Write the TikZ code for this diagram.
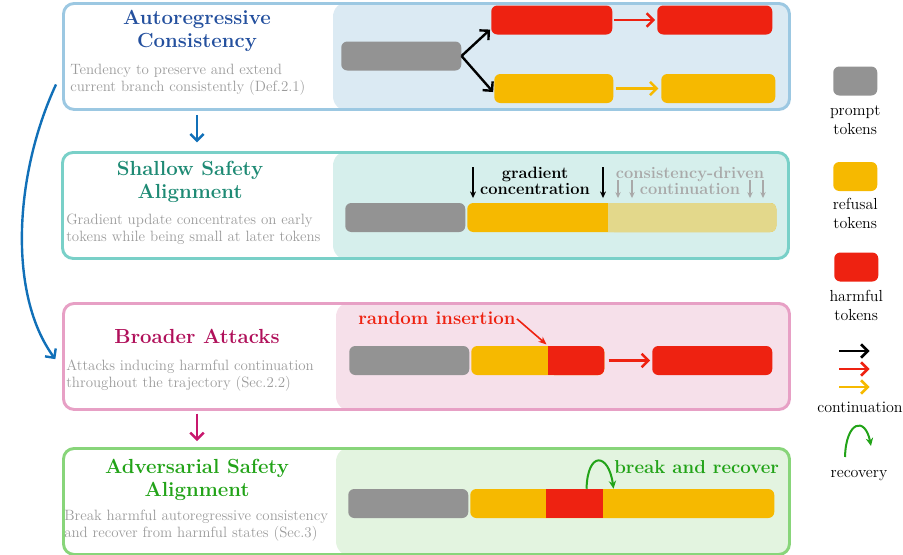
\documentclass[tikz,border=0pt]{standalone}
\usepackage{tikz}
\usetikzlibrary{arrows.meta,positioning,calc}
\pgfdeclarelayer{background}
\pgfsetlayers{background,main}

\definecolor{promptgray}{HTML}{939393}
\definecolor{harmred}{HTML}{EE2211}
\definecolor{refyellow}{HTML}{F6B900}
\definecolor{contkhaki}{HTML}{E3D88B}
\definecolor{desctext}{HTML}{9B9B9B}
\definecolor{lightarrow}{HTML}{A9A9A9}
\definecolor{acblue}{HTML}{24509E}
\definecolor{acborder}{HTML}{9CC8E2}
\definecolor{acfill}{HTML}{DBEAF3}
\definecolor{acarrow}{HTML}{1170B8}
\definecolor{ssteal}{HTML}{1E8A74}
\definecolor{ssborder}{HTML}{79D0C8}
\definecolor{ssfill}{HTML}{D6EFEC}
\definecolor{bamag}{HTML}{B0105A}
\definecolor{baborder}{HTML}{E7A0C5}
\definecolor{bafill}{HTML}{F6E0EA}
\definecolor{baarrow}{HTML}{C8186E}
\definecolor{asgreen}{HTML}{22A318}
\definecolor{asborder}{HTML}{88D57A}
\definecolor{asfill}{HTML}{E3F4E0}

\begin{document}
\begin{tikzpicture}[
      x=0.75pt, y=-0.75pt,
      token/.style={rounded corners=4.5pt, inner sep=0pt, minimum height=21.75pt, anchor=west},
      len/.style={minimum width=#1*0.75pt},
      prompt/.style={token, fill=promptgray},
      refusal/.style={token, fill=refyellow},
      harmful/.style={token, fill=harmred},
      panel/.style={draw=#1, line width=2.2pt, rounded corners=8pt, inner sep=0pt,
        anchor=north west, minimum width=726*0.75pt, minimum height=106*0.75pt},
      title/.style={font=\fontsize{15.3}{17.25}\selectfont\bfseries, align=center, text=#1},
      desc/.style={font=\fontsize{11.2}{12.75}\selectfont, text=desctext, align=left,
        anchor=west, inner sep=0pt},
      tag/.style={font=\fontsize{12.3}{12}\selectfont\bfseries, align=center, inner sep=0pt},
      legend/.style={font=\fontsize{12}{14.25}\selectfont, align=center, inner sep=0pt},
      flow/.style={->, line width=1.8pt, #1},
      >={Straight Barb[length=5pt,width=10pt]}
    ]
    \useasboundingbox (0,0) rectangle (903,554);

    % the panels
    \node[panel=acborder] (pan1) at (62,2) {};
    \node[panel=ssborder] (pan2) at (61,151) {};
    \node[panel=baborder] (pan3) at (62,302) {};
    \node[panel=asborder] (pan4) at (62,447) {};

    \begin{pgfonlayer}{background}
      \fill[acfill, rounded corners=11pt] (333,2) rectangle (pan1.south east);
      \fill[ssfill, rounded corners=11pt] (333,151) rectangle (pan2.south east);
      \fill[bafill, rounded corners=11pt] (336,302) rectangle (pan3.south east);
      \fill[asfill, rounded corners=11pt] (336,447) rectangle (pan4.south east);
    \end{pgfonlayer}

    % titles and descriptions
    \node[title=acblue] (t1) at (197,30.5) {Autoregressive\\Consistency};
    \node[desc] (d1) at (70,79.5) {Tendency to preserve and extend\\current branch consistently (Def.2.1)};
    \node[title=ssteal] (t2) at (190,182) {Shallow Safety\\Alignment};
    \node[desc] (d2) at (66,229) {Gradient update concentrates on early\\tokens while being small at later tokens};
    \node[title=bamag] (t3) at (197,336) {Broader Attacks};
    \node[desc] (d3) at (66,376) {Attacks inducing harmful continuation\\throughout the trajectory (Sec.2.2)};
    \node[title=asgreen] (t4) at (197,479.5) {Adversarial Safety\\Alignment};
    \node[desc] (d4) at (64,526) {Break harmful autoregressive consistency\\and recover from harmful states (Sec.3)};

    % panel 1
    \node[prompt, len=120] (p1prompt) at (341,56) {};
    \node[harmful, len=121] (p1harm) at (491,20) {};
    \node[harmful, len=115] (p1harm2) at (657,20) {};
    \node[refusal, len=119] (p1ref) at (494,88.5) {};
    \node[refusal, len=114] (p1ref2) at (661,88.5) {};
    \draw[flow=black, shorten >=1pt] (p1prompt.east) -- ([yshift=-6.5pt]p1harm.west);
    \draw[flow=black, shorten >=1pt] (p1prompt.east) -- ([yshift=-3.4pt]p1ref.west);
    \draw[flow=harmred, shorten <=1pt, shorten >=1.5pt] (p1harm) -- (p1harm2);
    \draw[flow=refyellow, shorten <=2pt, shorten >=2pt] (p1ref) -- (p1ref2);

    % panel 2
    \node[prompt, len=120] (p2prompt) at (345,217.5) {};
    \node[refusal, len=309] (p2ref) at (467,217.5) {};
    \node[token, fill=contkhaki, len=168] (p2cont) at (608,217.5) {};
    \fill[contkhaki] (p2cont.north west) rectangle ([xshift=6pt]p2cont.south west);
    \node[tag] (gradlbl) at (535,181) {gradient\\concentration};
    \node[tag, text=lightarrow] (contlbl) at (690,181) {consistency-driven\\continuation};
    \coordinate (g1) at (473,167);
    \coordinate (g2) at (603,167);
    \foreach \g in {g1,g2}
      \draw[->, line width=1.2pt, >={Stealth[length=5pt,width=4.5pt]}, shorten >=3.5pt] (\g) -- (\g |- p2ref.north);
    \foreach \gx in {618,632,750,763} {
      \coordinate (ga\gx) at (\gx,180);
      \draw[->, lightarrow, line width=1.2pt, >={Stealth[length=4.5pt,width=4pt]}, shorten >=3.5pt] (ga\gx) -- (ga\gx |- p2ref.north);
    }

    % panel 3
    \node[prompt, len=120] (p3prompt) at (349,360.5) {};
    \node[refusal, len=133] (p3ref) at (471,360.5) {};
    \node[harmful, len=56] (p3harm) at (548,360.5) {};
    \fill[harmred] (p3harm.north west) rectangle ([xshift=6pt]p3harm.south west);
    \node[harmful, len=120] (p3harm2) at (652,360.5) {};
    \draw[flow=harmred, shorten <=3pt, shorten >=1.5pt] (p3ref.east) -- (p3harm2.west);
    \node[tag, text=harmred, font=\fontsize{14}{14}\selectfont\bfseries] (insertlbl) at (437,318) {random insertion};
    \draw[->, harmred, line width=1.2pt, >={Stealth[length=6pt,width=5pt]}, shorten <=1pt, shorten >=1.5pt] (insertlbl.east) -- (p3harm.north west);

    % panel 4
    \node[prompt, len=120] (p4prompt) at (348,503.5) {};
    \node[refusal, len=304] (p4ref) at (470,503.5) {};
    \node[harmful, len=57, sharp corners] (p4harm) at (546,503.5) {};
    \coordinate (rs) at ([xshift=-12.75pt]p4harm.north east);
    \coordinate (re) at ([xshift=7.5pt]p4harm.north east);
    \draw[->, asgreen, line width=1.5pt, >={Stealth[length=6pt,width=5.5pt]}] (rs) .. controls +(1,-38) and +(-5,-36) .. (re);
    \node[tag, text=asgreen, font=\fontsize{14}{14}\selectfont\bfseries, anchor=west] (breaklbl) at (614,467) {break and recover};

    % arrows between the panels
    \draw[flow=acarrow, shorten <=3pt, shorten >=6.5pt] (pan1.south -| t1) -- (pan2.north -| t1);
    \draw[flow=baarrow, shorten <=2pt, shorten >=4.5pt] (pan3.south -| t3) -- (pan4.north -| t3);
    \coordinate (cs) at ([shift={(-4.5pt,-21pt)}]pan1.west);
    \coordinate (ce) at ([shift={(-5pt,-2pt)}]pan3.west);
    \draw[flow=acarrow] (cs) .. controls (14,175) and (8,295) .. (ce);

    % legend
    \node[prompt, len=44] (lgprompt) at (833,81) {};
    \node[legend, below=7pt of lgprompt] (lgpromptlbl) {prompt\\tokens};
    \node[refusal, len=44] (lgref) at (833,176.5) {};
    \node[legend, below=5pt of lgref] (lgreflbl) {refusal\\tokens};
    \node[harmful, len=44] (lgharm) at (834,267) {};
    \node[legend, below=6pt of lgharm] (lgharmlbl) {harmful\\tokens};
    \foreach \c/\ly in {black/351,harmred/369,refyellow/387} {
      \coordinate (la\ly) at (839,\ly);
      \coordinate (lb\ly) at (871,\ly);
      \draw[flow=\c, line width=2pt, shorten >=1pt] (la\ly) -- (lb\ly);
    }
    \node[legend] (lgcont) at (860,407) {continuation};
    \coordinate (lrs) at (845,457);
    \coordinate (lre) at (871,446);
    \draw[->, asgreen, line width=1.5pt, >={Stealth[length=6pt,width=5.5pt]}] (lrs) .. controls +(1,-36) and +(-6,-30) .. (lre);
    \node[legend] (lgrec) at (859,476) {recovery};
    \end{tikzpicture}
\end{document}
